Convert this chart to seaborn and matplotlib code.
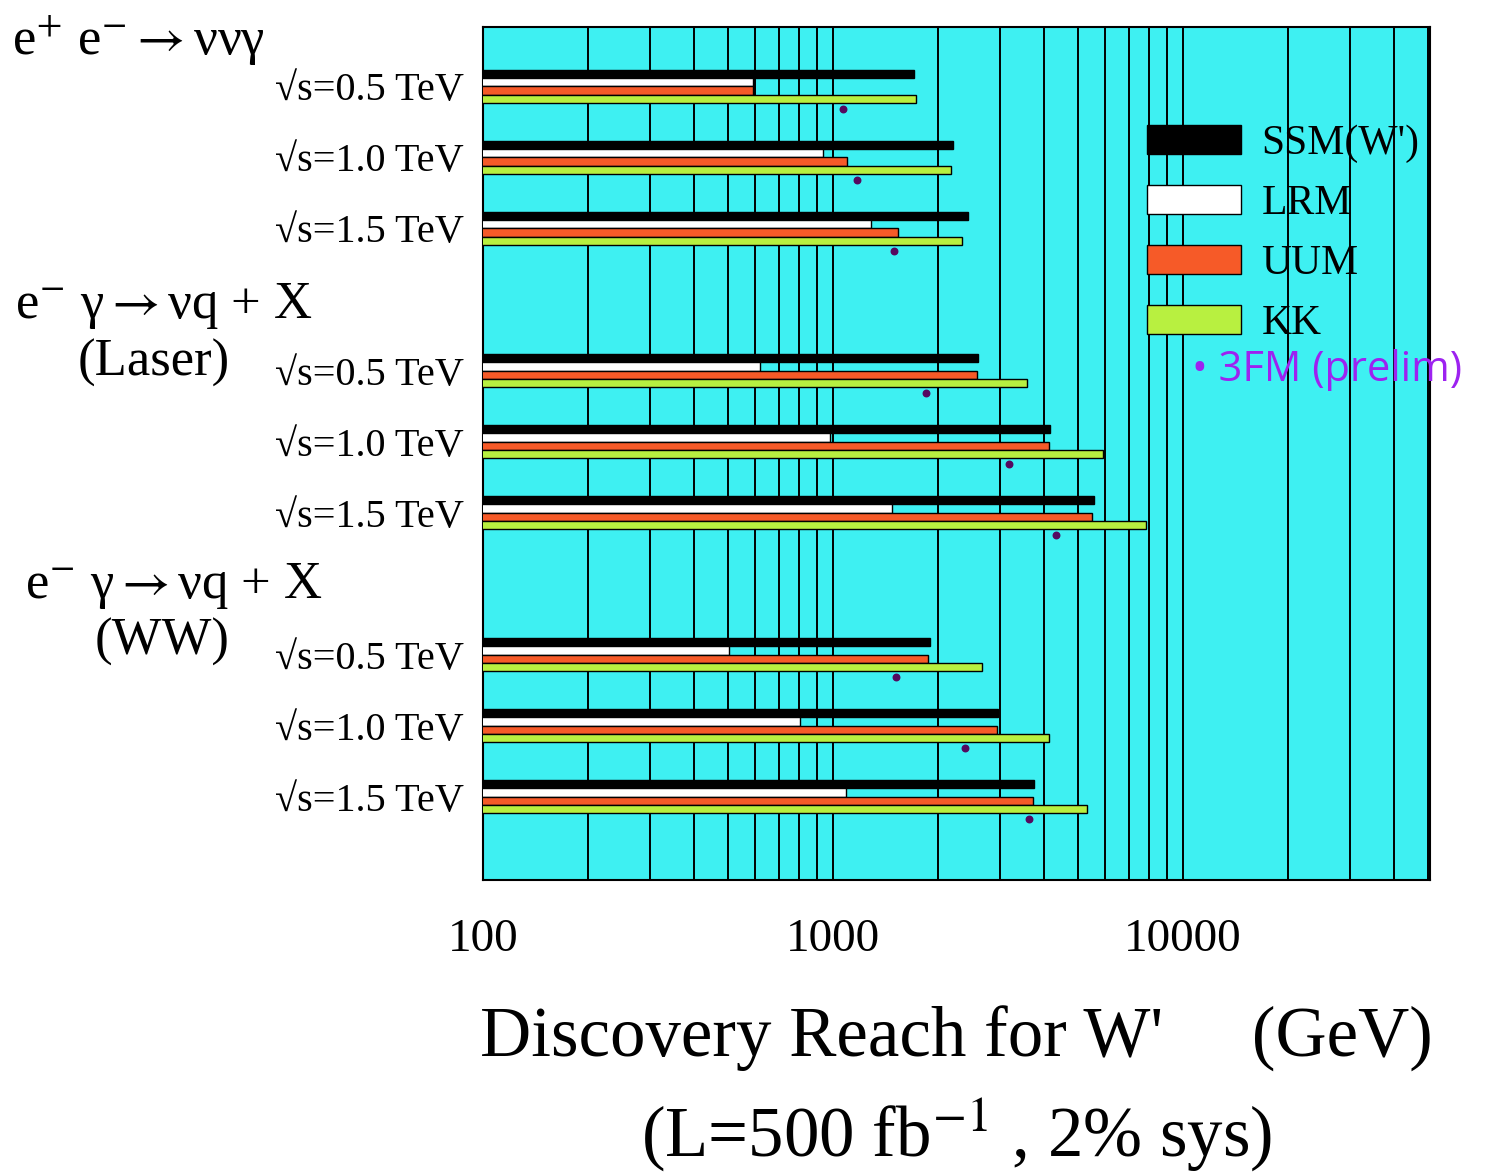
import matplotlib
matplotlib.use("Agg")
import matplotlib.pyplot as plt
from matplotlib.ticker import LogLocator, NullFormatter
import seaborn as sns
import pandas as pd
import numpy as np

# categories: 3 processes x 3 energies, with an empty slot between processes
row_order = ["ee_05", "ee_10", "ee_15", "gap_1",
             "las_05", "las_10", "las_15", "gap_2",
             "ww_05", "ww_10", "ww_15"]
data_rows = ["ee_05", "ee_10", "ee_15",
             "las_05", "las_10", "las_15",
             "ww_05", "ww_10", "ww_15"]
energy_labels = ["√s=0.5 TeV", "√s=1.0 TeV", "√s=1.5 TeV"] * 3
models = ["SSM(W')", "LRM", "UUM", "KK"]

# discovery reach in GeV
ssm = [1700, 2200, 2430, 2600, 4180, 5570, 1890, 2960, 3750]
lrm = [590, 935, 1285, 620, 980, 1475, 505, 805, 1090]
uum = [590, 1095, 1535, 2580, 4140, 5510, 1870, 2940, 3730]
kk = [1725, 2170, 2340, 3585, 5910, 7840, 2665, 4140, 5320]
fm3 = [1070, 1170, 1495, 1845, 3185, 4340, 1515, 2385, 3630]

colors = ["#000000", "#ffffff", "#f65a28", "#b8f040"]

df = pd.DataFrame({
    "row": data_rows * 4,
    "model": [m for m in models for _ in data_rows],
    "reach": ssm + lrm + uum + kk,
})

sns.set_theme(style="white")
plt.rcParams['font.family'] = ['Liberation Serif', 'DejaVu Serif']
plt.rcParams['mathtext.fontset'] = 'stix'
plt.rcParams['text.color'] = 'black'
plt.rcParams['axes.labelcolor'] = 'black'
plt.rcParams['xtick.color'] = 'black'
plt.rcParams['ytick.color'] = 'black'

fig = plt.figure(figsize=(14.88, 11.74), dpi=100)
ax = fig.add_axes([483 / 1488, 294 / 1174, 947 / 1488, 853 / 1174])
ax.set_facecolor("#3ef0f2")

sns.barplot(data=df, x="reach", y="row", hue="model", order=row_order,
            hue_order=models, palette=colors, saturation=1, width=0.46,
            orient="h", errorbar=None, edgecolor="black", linewidth=1.0,
            ax=ax, zorder=3)
ax.set_xscale("log", nonpositive="clip")

# 3FM preliminary points sit just under each group
pos = np.array([row_order.index(r) for r in data_rows])
ax.scatter(fm3, pos + 0.32, s=22, color="#55095f", zorder=4)

ax.set_xlim(100, 50800)
ax.set_ylim(11.176, -0.838)
ax.xaxis.set_minor_locator(LogLocator(base=10, subs=range(2, 10)))
ax.xaxis.set_minor_formatter(NullFormatter())
ax.set_xticks([100, 1000, 10000], labels=["100", "1000", "10000"])
ax.grid(True, which="both", axis="x", color="black", linewidth=1.4)
ax.set_axisbelow(True)
ax.tick_params(axis="x", which="both", length=0, pad=28, labelsize=34)
ax.set_yticks(pos, labels=energy_labels)
ax.tick_params(axis="y", length=0, pad=14, labelsize=29)
for s in ax.spines.values():
    s.set_color("black")
    s.set_linewidth(1.5)

ax.set_ylabel("")
ax.set_xlabel("Discovery Reach for W'     (GeV)\n(L=500 fb$^{-1}$ , 2% sys)",
              fontsize=51, labelpad=32, linespacing=1.38)

handles, labels = ax.get_legend_handles_labels()
ax.legend(handles, labels, loc="upper left", bbox_to_anchor=(0.701, 0.886),
          frameon=False, fontsize=30, handlelength=2.25, handleheight=0.7,
          handletextpad=0.5, labelspacing=0.52, borderpad=0, borderaxespad=0)

fig.text(1192 / 1488, 1 - 370 / 1174, "• 3FM (prelim)", color="#9d22f0",
         fontsize=30, family=["Open Sans"], va="center")

# process headings on the left
fig.text(12 / 1488, 1 - 55 / 1174, "e$^{+}$ e$^{-}$$\\rightarrow$ννγ", fontsize=38, va="baseline")
fig.text(15 / 1488, 1 - 318 / 1174, "e$^{-}$ γ$\\rightarrow$νq + X", fontsize=38, va="baseline")
fig.text(78 / 1488, 1 - 376 / 1174, "(Laser)", fontsize=38, va="baseline")
fig.text(25 / 1488, 1 - 598 / 1174, "e$^{-}$ γ$\\rightarrow$νq + X", fontsize=38, va="baseline")
fig.text(95 / 1488, 1 - 655 / 1174, "(WW)", fontsize=38, va="baseline")

fig.savefig("out.png", dpi=100)
